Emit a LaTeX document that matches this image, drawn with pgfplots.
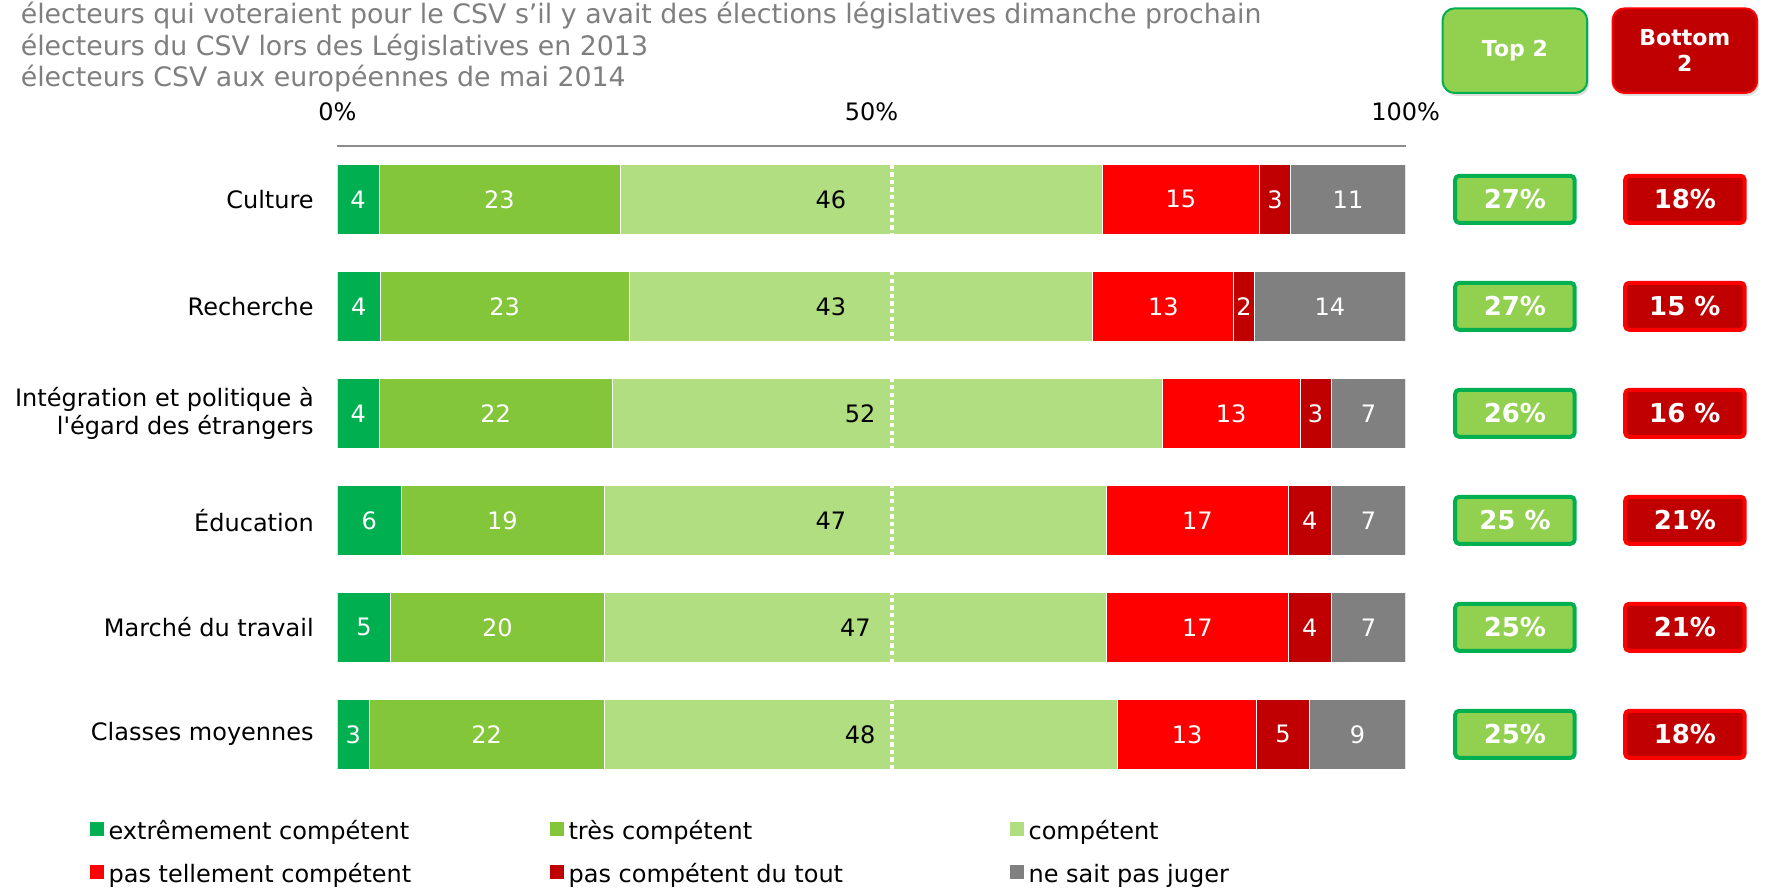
\documentclass[border=0pt]{standalone}
\usepackage{fontspec}
\setmainfont{DejaVu Sans}
\usepackage{pgfplots}
\pgfplotsset{compat=1.18}
\usepackage{pgfplotstable}
\usetikzlibrary{shadows}
\definecolor{cA}{HTML}{00B050}
\definecolor{cB}{HTML}{84C63A}
\definecolor{cC}{HTML}{B2DE82}
\definecolor{cD}{HTML}{FF0000}
\definecolor{cE}{HTML}{C00000}
\definecolor{cF}{HTML}{808080}
\definecolor{topfill}{HTML}{92D050}
\definecolor{topborder}{HTML}{00B050}
\definecolor{botfill}{HTML}{C00000}
\definecolor{botborder}{HTML}{FF0000}
\definecolor{titlegray}{HTML}{7F7F7F}
\definecolor{axgray}{HTML}{8C8C8C}

\pgfplotstableread{
y a b c d e f
0 3.90 22.56 45.11 14.76 2.86 10.81
1 4.00 23.31 43.40 13.20 1.90 14.19
2 3.93 21.78 51.51 12.89 2.90 6.99
3 5.96 19.00 47.05 17.00 4.00 6.99
4 5.00 19.96 47.05 17.00 4.00 6.99
5 2.97 22.00 48.04 13.05 4.90 9.04
}\bars

\pgfplotstableread{
x y l
1.95 0 4
15.18 0 23
78.95 0 15
87.76 0 3
94.60 0 11
2.00 1 4
15.66 1 23
77.31 1 13
84.86 1 2
92.91 1 14
1.97 2 4
14.82 2 22
83.67 2 13
91.56 2 3
96.51 2 7
2.98 3 6
15.46 3 19
80.51 3 17
91.01 3 4
96.51 3 7
2.50 4 5
14.98 4 20
80.51 4 17
91.01 4 4
96.51 4 7
1.49 5 3
13.97 5 22
79.54 5 13
88.51 5 5
95.48 5 9
}\whitelab

\pgfplotstableread{
x y l
46.19 0 46
46.19 1 43
48.93 2 52
46.19 3 47
48.50 4 47
48.93 5 48
}\blacklab

\pgfplotstableread[col sep=comma]{
y,top,bot
0,27\%,18\%
1,27\%,15 \%
2,26\%,16 \%
3,25 \%,21\%
4,25\%,21\%
5,25\%,18\%
}\boxes

\newcommand{\lt}[1]{\makebox[218.4bp][l]{\strut #1}}

\begin{document}
\begin{tikzpicture}
\begin{axis}[name=main, scale only axis, width=534.2bp, height=321bp,
  xbar stacked, bar width=0.65,
  xmin=0, xmax=100, ymin=-0.5, ymax=5.5, y dir=reverse,
  enlargelimits=false,
  axis x line*=top, axis y line*=left,
  x axis line style={draw=axgray, line width=0.75bp, -},
  y axis line style={draw=none},
  major tick length=0pt,
  xtick={0,50,100}, xticklabels={0\%,50\%,100\%},
  ytick={0,1,2,3,4,5},
  yticklabels={Culture,Recherche,{Intégration et politique à\\l\textquotesingle égard des étrangers},Éducation,Marché du travail,Classes moyennes},
  tick label style={font=\fontsize{12bp}{14bp}\selectfont, text=black},
  xticklabel style={anchor=base, yshift=12.4bp},
  yticklabel style={align=right, anchor=east, inner sep=0pt, xshift=-11.6bp},
  legend columns=3, legend cell align=left,
  legend style={at={(-0.23147,-0.04922)}, anchor=north west, draw=none, fill=none,
    inner sep=0pt, outer sep=0pt, column sep=2.3bp, row sep=10.3bp,
    font=\fontsize{12bp}{14bp}\selectfont, nodes={inner sep=0pt}},
  legend image code/.code={\fill[#1,draw=none] (0bp,-2.8bp) rectangle (7bp,4.2bp);},
]
\addplot[fill=cA, draw=white, line width=0.3bp] table[x=a,y=y]{\bars};
\addplot[fill=cB, draw=white, line width=0.3bp] table[x=b,y=y]{\bars};
\addplot[fill=cC, draw=white, line width=0.3bp] table[x=c,y=y]{\bars};
\addplot[fill=cD, draw=white, line width=0.3bp] table[x=d,y=y]{\bars};
\addplot[fill=cE, draw=white, line width=0.3bp] table[x=e,y=y]{\bars};
\addplot[fill=cF, draw=white, line width=0.3bp] table[x=f,y=y]{\bars};
\legend{\lt{extrêmement compétent},\lt{très compétent},\lt{compétent},\lt{pas tellement compétent},\lt{pas compétent du tout},\lt{ne sait pas juger}}
\end{axis}

\begin{axis}[scale only axis, width=534.2bp, height=321bp,
  xmin=0, xmax=100, ymin=-0.5, ymax=5.5, y dir=reverse,
  enlargelimits=false, hide axis, clip=false]
\addplot[white, line width=1.8bp, dash pattern=on 2.2bp off 1.6bp] coordinates {(51.9,-0.325) (51.9,5.325)};
\addplot[only marks, mark=*, mark options={draw opacity=0, fill opacity=0},
  nodes near coords, point meta=explicit symbolic,
  nodes near coords style={anchor=center, opacity=1, fill opacity=1, draw opacity=1, text opacity=1,
    text=white, font=\fontsize{12bp}{14bp}\selectfont}]
  table[x=x,y=y,meta=l]{\whitelab};
\addplot[only marks, mark=*, mark options={draw opacity=0, fill opacity=0},
  nodes near coords, point meta=explicit symbolic,
  nodes near coords style={anchor=center, opacity=1, fill opacity=1, draw opacity=1, text opacity=1,
    text=black, font=\fontsize{12bp}{14bp}\selectfont}]
  table[x=x,y=y,meta=l]{\blacklab};
\addplot[only marks, mark=*, mark options={draw opacity=0, fill opacity=0},
  nodes near coords, point meta=explicit symbolic,
  nodes near coords style={anchor=center, opacity=1, fill opacity=1, draw opacity=1, text opacity=1,
    text=white, font=\fontsize{13bp}{15bp}\selectfont\bfseries,
    fill=topfill, draw=topborder, line width=2bp, minimum width=59.7bp, minimum height=23.5bp,
    rounded corners=2bp, inner sep=0pt}]
  table[x expr=110.22, y=y, meta=top]{\boxes};
\addplot[only marks, mark=*, mark options={draw opacity=0, fill opacity=0},
  nodes near coords, point meta=explicit symbolic,
  nodes near coords style={anchor=center, opacity=1, fill opacity=1, draw opacity=1, text opacity=1,
    text=white, font=\fontsize{13bp}{15bp}\selectfont\bfseries,
    fill=botfill, draw=botborder, line width=2bp, minimum width=59.7bp, minimum height=23.5bp,
    rounded corners=2bp, inner sep=0pt}]
  table[x expr=126.13, y=y, meta=bot]{\boxes};
\node[fill=topfill, draw=topborder, line width=1bp, rounded corners=6bp,
  minimum width=72.3bp, minimum height=42.3bp, inner sep=0pt, text=white,
  font=\fontsize{11bp}{13.3bp}\selectfont\bfseries,
  drop shadow={opacity=0.25, shadow xshift=1bp, shadow yshift=-1.5bp}]
  at (axis cs:110.22,-1.389) {Top 2};
\node[fill=botfill, draw=botborder, line width=1bp, rounded corners=6bp,
  minimum width=72.3bp, minimum height=42.3bp, inner sep=0pt, text=white, align=center,
  font=\fontsize{11bp}{13.3bp}\selectfont\bfseries,
  drop shadow={opacity=0.25, shadow xshift=1bp, shadow yshift=-1.5bp}]
  at (axis cs:126.13,-1.389) {Bottom\\2};
\end{axis}

\begin{scope}[every node/.style={anchor=base west, inner sep=0pt, text=titlegray,
    font=\fontsize{13.4bp}{15.8bp}\selectfont}]
\node at ([shift={(-158.45bp,61.1bp)}]main.north west) {électeurs qui voteraient pour le CSV s’il y avait des élections législatives dimanche prochain};
\node at ([shift={(-158.45bp,45.3bp)}]main.north west) {électeurs du CSV lors des Législatives en 2013};
\node at ([shift={(-158.45bp,29.55bp)}]main.north west) {électeurs CSV aux européennes de mai 2014};
\end{scope}

\pgfresetboundingbox
\path[use as bounding box] ([shift={(-168.65bp,72.9bp)}]main.north west) rectangle ([shift={(713.85bp,-371.6bp)}]main.north west);
\end{tikzpicture}
\end{document}
